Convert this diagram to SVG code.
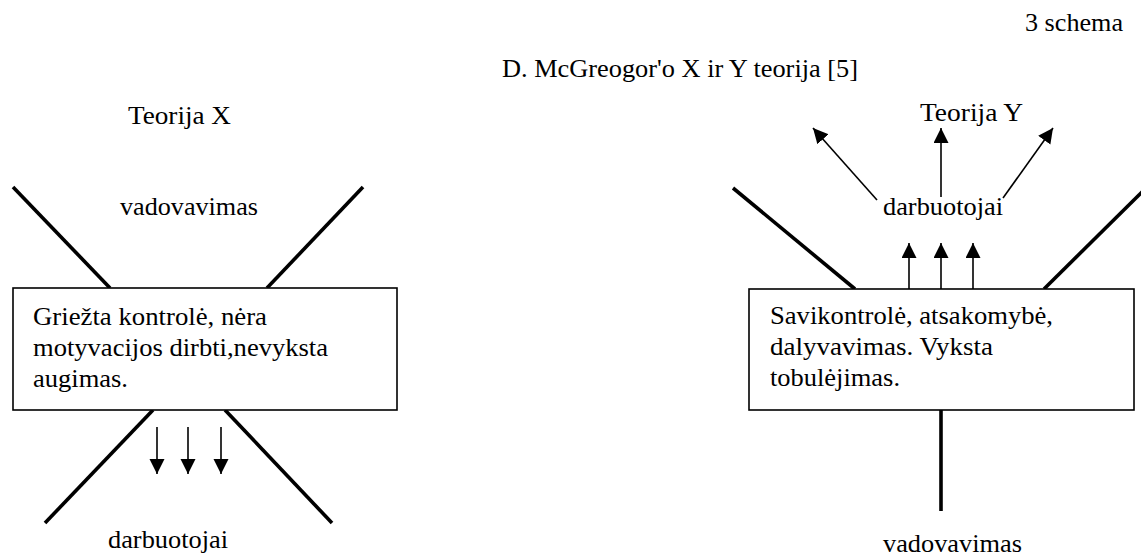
<svg xmlns="http://www.w3.org/2000/svg" width="1141" height="556" viewBox="0 0 1141 556">
  <style>
    text { font-family: "Liberation Serif", "Times New Roman", serif; font-size: 25px; fill: #000; }
    .box { fill: #fff; stroke: #000; stroke-width: 1.6; }
    .thick { stroke: #000; stroke-width: 3.6; fill: none; }
    .arrow { stroke: #000; stroke-width: 1.6; fill: none; marker-end: url(#head); }
  </style>
  <defs>
    <marker id="head" markerUnits="userSpaceOnUse" markerWidth="16" markerHeight="16" refX="15" refY="7.5" orient="auto">
      <path d="M0,0 L15,7.5 L0,15 Z" fill="#000"/>
    </marker>
  </defs>
  <rect width="1141" height="556" fill="#fff"/>

  <g id="header">
    <text x="1025" y="31" textLength="98" lengthAdjust="spacingAndGlyphs">3 schema</text>
    <text x="502" y="77" textLength="356" lengthAdjust="spacingAndGlyphs">D. McGreogor'o X ir Y teorija [5]</text>
  </g>

  <g id="connectors">
    <line class="thick" x1="13" y1="187" x2="110" y2="288"/>
    <line class="thick" x1="363" y1="187" x2="267" y2="288"/>
    <line class="thick" x1="153" y1="410" x2="45" y2="523"/>
    <line class="thick" x1="225" y1="410" x2="332" y2="523"/>
    <line class="arrow" x1="157" y1="427" x2="157" y2="474"/>
    <line class="arrow" x1="188" y1="427" x2="188" y2="474"/>
    <line class="arrow" x1="221" y1="427" x2="221" y2="474"/>

    <line class="thick" x1="733" y1="188" x2="855" y2="289"/>
    <line class="thick" x1="1146" y1="188" x2="1044" y2="289"/>
    <line class="thick" x1="941" y1="410" x2="941" y2="511"/>
    <line class="arrow" x1="909" y1="289" x2="909" y2="243"/>
    <line class="arrow" x1="941" y1="289" x2="941" y2="243"/>
    <line class="arrow" x1="973" y1="289" x2="973" y2="243"/>
    <line class="arrow" x1="877" y1="200" x2="813" y2="128"/>
    <line class="arrow" x1="941" y1="197" x2="941" y2="128"/>
    <line class="arrow" x1="1003" y1="198" x2="1053" y2="128"/>
  </g>

  <g id="theoryX">
    <text x="128" y="124" textLength="103" lengthAdjust="spacingAndGlyphs">Teorija X</text>
    <text x="120" y="215" textLength="138" lengthAdjust="spacingAndGlyphs">vadovavimas</text>
    <text x="108" y="548" textLength="120" lengthAdjust="spacingAndGlyphs">darbuotojai</text>
  </g>

  <g id="boxX">
    <rect class="box" x="13" y="288" width="384" height="122"/>
    <text x="33" y="325" textLength="234" lengthAdjust="spacingAndGlyphs">Griežta kontrolė, nėra</text>
    <text x="33" y="356" textLength="295" lengthAdjust="spacingAndGlyphs">motyvacijos dirbti,nevyksta</text>
    <text x="33" y="387" textLength="95" lengthAdjust="spacingAndGlyphs">augimas.</text>
  </g>

  <g id="theoryY">
    <text x="920" y="121" textLength="103" lengthAdjust="spacingAndGlyphs">Teorija Y</text>
    <text x="883" y="215" textLength="120" lengthAdjust="spacingAndGlyphs">darbuotojai</text>
    <text x="883" y="552" textLength="139" lengthAdjust="spacingAndGlyphs">vadovavimas</text>
  </g>

  <g id="boxY">
    <rect class="box" x="749" y="289" width="385" height="121"/>
    <text x="770" y="324" textLength="283" lengthAdjust="spacingAndGlyphs">Savikontrolė, atsakomybė,</text>
    <text x="770" y="355" textLength="223" lengthAdjust="spacingAndGlyphs">dalyvavimas. Vyksta</text>
    <text x="770" y="386" textLength="130" lengthAdjust="spacingAndGlyphs">tobulėjimas.</text>
  </g>
</svg>
